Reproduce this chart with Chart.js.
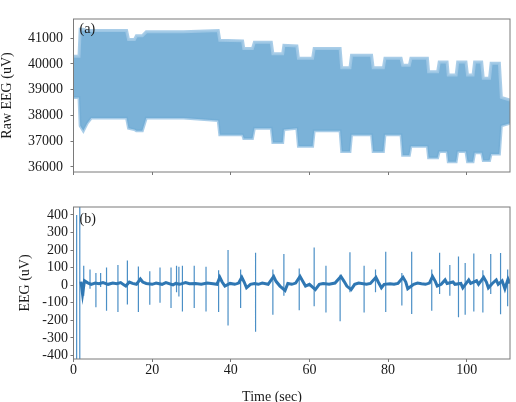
<!DOCTYPE html>
<html>
<head>
<meta charset="utf-8">
<script src="https://cdn.jsdelivr.net/npm/chart.js@4.4.0/dist/chart.umd.min.js"></script>
<style>
  html, body { margin: 0; padding: 0; background: #fff; overflow: hidden; width: 516px; height: 402px; }
  #rawChart { position: absolute; left: 0; top: 0; }
  #eegChart { position: absolute; left: 0; top: 190px; }
</style>
</head>
<body>
<canvas id="rawChart" width="516" height="190"></canvas>
<canvas id="eegChart" width="516" height="222"></canvas>
<script>
// panel (a): envelope of the raw EEG band (time in sec, uV)
const envTime = [0, 1.4, 1.7, 2.5, 3.5, 4.5, 13.5, 14, 15.5, 16, 17.5, 18.5, 28, 36.8, 37.2, 43, 43.3, 45.5, 46, 50.3,
  50.7, 53.2, 53.5, 56.8, 57.2, 60.8, 61.2, 67.8, 68.2, 70.3, 70.7, 75.8, 76.2, 78.8, 79.2, 83.3, 83.7, 85.4, 85.8, 90,
  90.3, 92.6, 93, 95, 95.3, 97.3, 97.7, 99.8, 100.2, 101.6, 102, 103.8, 104.2, 105.8, 106.2, 108.3, 108.8, 111];
const envHigh = [40300, 40300, 41350, 41350, 41300, 41300, 41300, 40950, 40950, 41100, 41100, 41250, 41250, 41300, 40920, 40900, 40600, 40600, 40850, 40850,
  40400, 40400, 40730, 40700, 40220, 40220, 40600, 40600, 39850, 39850, 40340, 40340, 39850, 39850, 40220, 40220, 39950, 39950, 40220, 40220,
  39700, 39700, 40080, 40080, 39570, 39570, 40080, 40080, 39570, 39570, 40080, 40080, 39450, 39450, 40030, 40030, 38700, 38600];
const envLow = [38700, 38700, 37600, 37400, 37700, 37900, 37900, 37500, 37450, 37400, 37400, 37900, 37900, 37800, 37250, 37250, 37100, 37100, 37500, 37500,
  36950, 36950, 37450, 37500, 36800, 36800, 37400, 37400, 36600, 36600, 37250, 37250, 36600, 36600, 37250, 37250, 36450, 36450, 36800, 36800,
  36350, 36350, 36600, 36600, 36200, 36200, 36600, 36600, 36200, 36200, 36550, 36550, 36250, 36250, 36500, 36500, 37600, 37700];

// panel (b): filtered EEG, spikes (time, peak, trough) and slow baseline
const spikeTime = [0.8, 1.6, 2.6, 4.2, 5.7, 6.9, 8.4, 11.3, 13.7, 16.5, 19.4, 22.0, 24.8, 26.2, 26.8, 27.7, 30.7, 33.7, 36.9, 39.3,
  42.5, 46.3, 50.7, 53.5, 57.4, 61.2, 64.2, 67.8, 70.3, 73.9, 76.8, 79.4, 83.5, 86.0, 91.1, 93.1, 95.7, 97.9, 99.6, 101.8,
  104.1, 106.1, 108.6, 110.4];
const spikeHigh = [400, 460, 110, 90, 70, 70, 100, 115, 140, 107, 80, 100, 100, 110, 105, 110, 110, 105, 85, 200,
  90, 185, 90, 177, 95, 215, 110, 60, 188, 110, 90, 190, 70, 190, 90, 185, 115, 164, 126, 180,
  85, 177, 183, 90];
const spikeLow = [-445, -445, -60, -20, -125, -10, -145, -152, -110, -152, -111, -100, -130, -40, -65, -149, -130, -149, -152, -230,
  -130, -265, -168, -60, -142, -120, -155, -205, -40, -155, -40, -152, -115, -164, -145, -50, -60, -183, -168, -150,
  -155, -50, -166, -120];

const baseTime = [1.9, 2.3, 2.8, 3.5, 4.5, 5.5, 6.5, 7.5, 8.8, 10, 11, 12, 12.8, 13.3, 14.2, 15, 16, 17.0, 17.6, 18.5,
  20, 21, 22.5, 23.5, 25.3, 26, 27, 28.5, 29.5, 31, 32.5, 34, 35.5, 36.5, 37.2, 37.8, 38.5, 39.8, 41, 42,
  42.8, 43.4, 44, 45, 46, 47, 48, 49.5, 50.9, 51.5, 52.5, 53.8, 54.5, 55.5, 56.5, 57.6, 58.3, 59, 60, 61.5,
  62.5, 63.5, 65, 66.5, 68, 68.8, 69.5, 70.6, 71.5, 72.5, 74.5, 75.5, 76.9, 77.5, 78.3, 79, 80.5, 81.5, 82.5, 83.8,
  84.5, 85, 86.5, 87.5, 88.5, 89.5, 90.5, 91.3, 92, 92.5, 93.5, 94.5, 95, 96.5, 97, 98.5, 99, 100.5, 101, 102.5,
  103, 104.3, 105, 105.5, 106.5, 107.5, 108, 109, 109.7, 110.5, 111];
const baseValue = [20, -50, 25, 15, 5, 12, 8, 15, 5, 12, 8, 15, 2, -5, 18, 10, 5, 35, 18, 10,
  5, 12, 5, 15, 2, 10, 5, 15, 8, 10, 5, 12, 8, 5, 45, 18, -5, 10, 5, 12,
  45, 18, -15, 5, 10, 5, 12, 5, 50, 22, -5, -30, 10, 5, 12, 50, 22, -5, 5, -25,
  5, 10, 5, 12, 50, 22, -5, -25, 5, 12, 5, 10, 45, 18, -15, 5, 8, 5, 10, 45,
  18, -20, 5, 12, 8, 5, 12, 50, 22, -5, 5, 30, 10, 18, 5, 10, -15, 30, 10, 25,
  5, 45, 18, -15, 10, 30, 5, 25, -20, 35, 10];

const rawTicks = [36000, 37000, 38000, 39000, 40000, 41000];
const eegTicks = [-400, -300, -200, -100, 0, 100, 200, 300, 400];
const timeTicks = [0, 20, 40, 60, 80, 100];

const serif = { family: "'Liberation Serif', 'Times New Roman', serif", size: 14 };
const textColor = "#1a1a1a";

// box around the plot area, like a matplotlib axes frame
const framePlugin = {
  id: "frame",
  afterDraw: (chart) => {
    const { ctx, chartArea } = chart;
    ctx.save();
    ctx.strokeStyle = "#7a7a7a";
    ctx.lineWidth = 1;
    ctx.strokeRect(chartArea.left, chartArea.top, chartArea.right - chartArea.left, chartArea.bottom - chartArea.top);
    ctx.restore();
  },
};

// "(a)" / "(b)" in the top left corner
const panelLabel = (text, dx, dy) => ({
  id: "panelLabel",
  afterDraw: (chart) => {
    const { ctx, chartArea } = chart;
    ctx.save();
    ctx.font = "14px 'Liberation Serif', serif";
    ctx.fillStyle = textColor;
    ctx.textBaseline = "top";
    ctx.fillText(text, chartArea.left + dx, chartArea.top + dy);
    ctx.restore();
  },
});

const setTicks = (list) => (axis) => {
  axis.ticks = list.map((v) => ({ value: v }));
};
const plain = (v) => String(v);

// PANEL (a)
let rawChart = new Chart(document.getElementById("rawChart").getContext("2d"), {
  type: "line",
  data: {
    datasets: [
      {
        data: envTime.map((t, i) => ({ x: t, y: envHigh[i] })),
        borderWidth: 3,
        borderColor: "rgba(160, 200, 230, 0.9)",
        pointRadius: 0,
        backgroundColor: "rgba(112, 171, 213, 0.92)",
        fill: "+1",
      },
      {
        data: envTime.map((t, i) => ({ x: t, y: envLow[i] })),
        borderWidth: 3,
        borderColor: "rgba(160, 200, 230, 0.9)",
        pointRadius: 0,
        fill: false,
      },
    ],
  },
  options: {
    responsive: false,
    animation: false,
    layout: { padding: { top: 19, left: 0, right: 6, bottom: 0 } },
    scales: {
      x: {
        type: "linear",
        min: 0,
        max: 111,
        afterBuildTicks: setTicks(timeTicks),
        afterFit: (axis) => { axis.height = 18; },
        ticks: { display: false },
        grid: { drawOnChartArea: false, tickLength: 3, color: "#777" },
        border: { display: false },
      },
      y: {
        min: 35800,
        max: 41750,
        afterBuildTicks: setTicks(rawTicks),
        afterFit: (axis) => { axis.width = 73.5; },
        ticks: { font: serif, color: textColor, padding: 7.5, autoSkip: false, callback: plain },
        grid: { drawOnChartArea: false, tickLength: 3, color: "#777" },
        border: { display: false },
        title: { display: true, text: "Raw EEG (uV)", font: serif, color: textColor, padding: { top: -1.4, bottom: 0 } },
      },
    },
    plugins: { legend: { display: false }, tooltip: { enabled: false } },
  },
  plugins: [framePlugin, panelLabel("(a)", 6, 3)],
});

// PANEL (b)
const eegSpikes = [];
spikeTime.forEach((t, i) => {
  eegSpikes.push({ x: t, y: spikeHigh[i] }, { x: t, y: spikeLow[i] }, { x: t, y: null });
});

let eegChart = new Chart(document.getElementById("eegChart").getContext("2d"), {
  type: "line",
  data: {
    datasets: [
      {
        data: baseTime.map((t, i) => ({ x: t, y: baseValue[i] })),
        borderColor: "#2f77b3",
        borderWidth: 3,
        pointRadius: 0,
        tension: 0,
      },
      {
        data: eegSpikes,
        borderColor: "#4b8fc6",
        borderWidth: 1.2,
        pointRadius: 0,
        spanGaps: false,
      },
    ],
  },
  options: {
    responsive: false,
    animation: false,
    layout: { padding: { top: 17, left: 34, right: 6, bottom: 0 } },
    scales: {
      x: {
        type: "linear",
        min: 0,
        max: 111,
        afterBuildTicks: setTicks(timeTicks),
        afterFit: (axis) => { axis.height = 29.6; },
        ticks: { font: serif, color: textColor, padding: 0, maxRotation: 0, autoSkip: false, callback: plain },
        grid: { drawOnChartArea: false, tickLength: 3, color: "#777" },
        border: { display: false },
      },
      y: {
        min: -420,
        max: 445,
        afterBuildTicks: setTicks(eegTicks),
        afterFit: (axis) => { axis.width = 39.5; },
        ticks: { font: serif, color: textColor, padding: 2.5, autoSkip: false, callback: plain },
        grid: { drawOnChartArea: false, tickLength: 3, color: "#777" },
        border: { display: false },
        title: { display: true, text: "EEG (uV)", font: serif, color: textColor, padding: { top: -17.4, bottom: 0 } },
      },
    },
    plugins: {
      legend: { display: false },
      tooltip: { enabled: false },
      title: {
        display: true,
        position: "bottom",
        text: "Time (sec)",
        font: { ...serif, weight: "normal" },
        color: textColor,
        padding: { top: 0, bottom: 6.6 },
      },
    },
  },
  plugins: [framePlugin, panelLabel("(b)", 6, 5)],
});
</script>
</body>
</html>
